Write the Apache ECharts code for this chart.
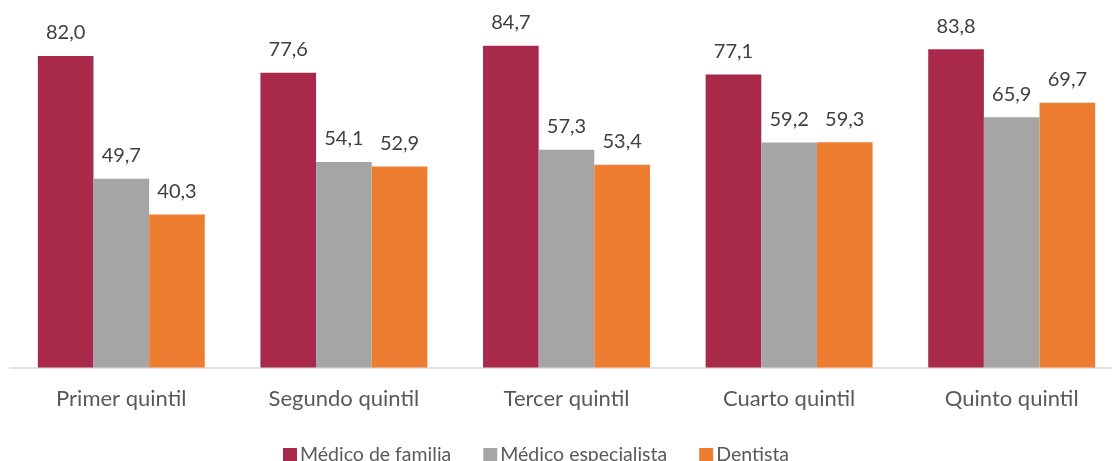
<!DOCTYPE html>
<html><head><meta charset="utf-8">
<script src="https://cdn.jsdelivr.net/npm/echarts@6/dist/echarts.min.js"></script>
<style>html,body{margin:0;padding:0;background:#fff}#c{width:1112px;height:461px}</style>
</head><body><div id="c"></div>
<script>
const categories = ['Primer quintil', 'Segundo quintil', 'Tercer quintil', 'Cuarto quintil', 'Quinto quintil'];
const medicoFamilia = [82.0, 77.6, 84.7, 77.1, 83.8];
const medicoEspecialista = [49.7, 54.1, 57.3, 59.2, 65.9];
const dentista = [40.3, 52.9, 53.4, 59.3, 69.7];
const seriesNames = ['Médico de familia', 'Médico especialista', 'Dentista'];

const FONT = 'Lato';
const chart = echarts.init(document.getElementById('c'), null, {renderer: 'canvas'});
const lbl = {
  show: true, position: 'top', distance: 13,
  color: '#404040', fontSize: 20, fontFamily: FONT,
  formatter: p => p.value.toFixed(1).replace('.', ',')
};
function mk(name, data, color) {
  return {name, type: 'bar', data, barGap: '0%', barCategoryGap: '25%',
    itemStyle: {color}, label: lbl, emphasis: {disabled: true}};
}
chart.setOption({
  animation: false,
  textStyle: {fontFamily: FONT},
  grid: {left: 10, top: 25.6, right: -11, bottom: 93.5, containLabel: false, outerBoundsMode: 'none'},
  xAxis: {type: 'category', data: categories,
    axisLine: {lineStyle: {color: '#d9d9d9', width: 1.5}},
    axisTick: {show: false},
    axisLabel: {color: '#595959', fontSize: 22, fontFamily: FONT, margin: 20}},
  yAxis: {type: 'value', min: 0, max: 90, show: false, splitLine: {show: false}},
  legend: {data: seriesNames, top: 445, left: 283, itemWidth: 14, itemHeight: 14,
    itemGap: 32, icon: 'rect', padding: 0,
    textStyle: {color: '#595959', fontSize: 19.5, fontFamily: FONT, padding: [0, 0, 0, -2]}},
  series: [
    mk(seriesNames[0], medicoFamilia, '#A9294A'),
    mk(seriesNames[1], medicoEspecialista, '#A5A5A5'),
    mk(seriesNames[2], dentista, '#ED7D31')
  ]
});
</script></body></html>
